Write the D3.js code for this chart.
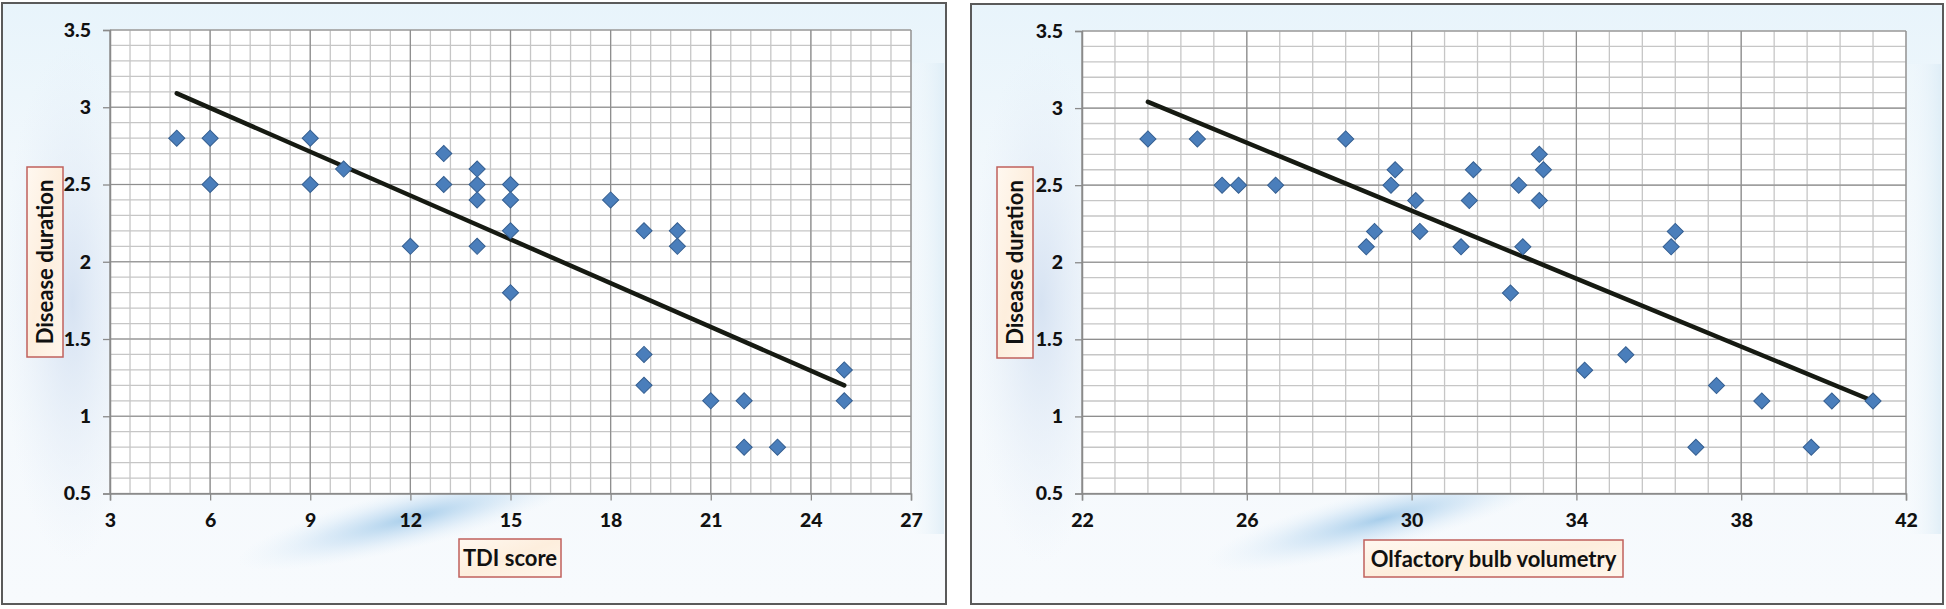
<!DOCTYPE html>
<html>
<head>
<meta charset="utf-8">
<script src="https://cdn.jsdelivr.net/npm/d3@7"></script>
<style>
  html, body { margin: 0; padding: 0; background: #ffffff; }
  svg { display: block; }
</style>
</head>
<body>
<svg id="chart" width="1946" height="609"></svg>
<script>
// ---------------- DATA ----------------
const tdiScore = [5, 6, 6, 9, 9, 10, 12, 13, 13, 14, 14, 14, 14, 15, 15, 15, 15, 18, 19, 19, 19, 20, 20, 21, 22, 22, 23, 25, 25];
const tdiDuration = [2.8, 2.8, 2.5, 2.8, 2.5, 2.6, 2.1, 2.7, 2.5, 2.6, 2.5, 2.4, 2.1, 2.5, 2.4, 2.2, 1.8, 2.4, 2.2, 1.4, 1.2, 2.2, 2.1, 1.1, 1.1, 0.8, 0.8, 1.3, 1.1];
const tdiTrendX = [5, 25];
const tdiTrendY = [3.09, 1.20];

const obVolume = [23.6, 24.8, 25.4, 25.8, 26.7, 28.4, 29.6, 29.5, 30.1, 29.1, 28.9, 30.2, 31.2, 31.5, 31.4, 32.6, 33.1, 33.2, 33.1, 32.7, 32.4, 36.4, 36.3, 34.2, 35.2, 36.9, 37.4, 38.5, 39.7, 40.2, 41.2];
const obDuration = [2.8, 2.8, 2.5, 2.5, 2.5, 2.8, 2.6, 2.5, 2.4, 2.2, 2.1, 2.2, 2.1, 2.6, 2.4, 2.5, 2.7, 2.6, 2.4, 2.1, 1.8, 2.2, 2.1, 1.3, 1.4, 0.8, 1.2, 1.1, 0.8, 1.1, 1.1];
const obTrendX = [23.6, 41.2];
const obTrendY = [3.04, 1.10];

const yTicks = [0.5, 1, 1.5, 2, 2.5, 3, 3.5];
const tdiTicks = [3, 6, 9, 12, 15, 18, 21, 24, 27];
const obTicks = [22, 26, 30, 34, 38, 42];
const yTitle = "Disease duration";
const tdiTitle = "TDI score";
const obTitle = "Olfactory bulb volumetry";

// ---------------- DRAW ----------------
const svg = d3.select("#chart");
const defs = svg.append("defs");

const bg = defs.append("linearGradient").attr("id", "panelBg").attr("x1", 0).attr("y1", 0).attr("x2", 0).attr("y2", 1);
bg.append("stop").attr("offset", "0%").attr("stop-color", "#e8f4fb");
bg.append("stop").attr("offset", "30%").attr("stop-color", "#f2f8fc");
bg.append("stop").attr("offset", "100%").attr("stop-color", "#f7fafd");

const leftGlow = defs.append("radialGradient").attr("id", "leftGlow");
leftGlow.append("stop").attr("offset", "0%").attr("stop-color", "#d3e0f1").attr("stop-opacity", 0.9);
leftGlow.append("stop").attr("offset", "100%").attr("stop-color", "#e6eef8").attr("stop-opacity", 0);

const streak = defs.append("radialGradient").attr("id", "streak");
streak.append("stop").attr("offset", "0%").attr("stop-color", "#86bbe3").attr("stop-opacity", 0.7);
streak.append("stop").attr("offset", "50%").attr("stop-color", "#b3d4ef").attr("stop-opacity", 0.4);
streak.append("stop").attr("offset", "100%").attr("stop-color", "#dcecf8").attr("stop-opacity", 0);

const rightGlow = defs.append("linearGradient").attr("id", "rightGlow").attr("x1", 0).attr("y1", 0).attr("x2", 1).attr("y2", 0);
rightGlow.append("stop").attr("offset", "0%").attr("stop-color", "#ffffff").attr("stop-opacity", 0);
rightGlow.append("stop").attr("offset", "100%").attr("stop-color", "#dcecf6").attr("stop-opacity", 1);

const boxFill = defs.append("linearGradient").attr("id", "boxFill").attr("x1", 0).attr("y1", 0).attr("x2", 1).attr("y2", 1);
boxFill.append("stop").attr("offset", "0%").attr("stop-color", "#fff8f0");
boxFill.append("stop").attr("offset", "50%").attr("stop-color", "#fdeedd");
boxFill.append("stop").attr("offset", "100%").attr("stop-color", "#fff6ec");

const FONT = "Lato, 'Open Sans', sans-serif";

function drawPanel(cfg) {
  const g = svg.append("g");
  const P = cfg.panel;
  // panel background
  g.append("rect").attr("x", P.x).attr("y", P.y).attr("width", P.w).attr("height", P.h).attr("fill", "url(#panelBg)");
  g.append("ellipse").attr("cx", P.x + 70).attr("cy", P.y + 300).attr("rx", 70).attr("ry", 260).attr("fill", "url(#leftGlow)");
  g.append("rect").attr("x", P.x + P.w - 45).attr("y", P.y + 60).attr("width", 43).attr("height", P.h - 130).attr("fill", "url(#rightGlow)").attr("opacity", 0.8);
  g.append("ellipse").attr("cx", P.x + 410).attr("cy", P.y + 515).attr("rx", 180).attr("ry", 30)
    .attr("transform", `rotate(-14 ${P.x + 410} ${P.y + 515})`).attr("fill", "url(#streak)");

  const x = d3.scaleLinear().domain(cfg.xDomain).range([cfg.plot.x0, cfg.plot.x1]);
  const y = d3.scaleLinear().domain([0.5, 3.5]).range([cfg.plot.y1, cfg.plot.y0]);

  // plot background
  g.append("rect").attr("x", cfg.plot.x0).attr("y", cfg.plot.y0)
    .attr("width", cfg.plot.x1 - cfg.plot.x0).attr("height", cfg.plot.y1 - cfg.plot.y0).attr("fill", "#ffffff");

  // minor grid
  const [xa, xb] = cfg.xDomain;
  const xMinor = d3.range(0, Math.round((xb - xa) / cfg.xMinorStep) + 1).map(i => xa + i * cfg.xMinorStep);
  const yMinor = d3.range(0, 31).map(i => 0.5 + i * 0.1);
  g.append("g").selectAll("line").data(xMinor).join("line")
    .attr("x1", d => x(d)).attr("x2", d => x(d)).attr("y1", cfg.plot.y0).attr("y2", cfg.plot.y1)
    .attr("stroke", "#c6c6c6").attr("stroke-width", 1.3);
  g.append("g").selectAll("line").data(yMinor).join("line")
    .attr("y1", d => y(d)).attr("y2", d => y(d)).attr("x1", cfg.plot.x0).attr("x2", cfg.plot.x1)
    .attr("stroke", "#c6c6c6").attr("stroke-width", 1.3);
  // major grid
  g.append("g").selectAll("line").data(cfg.xTicks).join("line")
    .attr("x1", d => x(d)).attr("x2", d => x(d)).attr("y1", cfg.plot.y0).attr("y2", cfg.plot.y1)
    .attr("stroke", "#8e8e8e").attr("stroke-width", 1.2);
  g.append("g").selectAll("line").data(yTicks).join("line")
    .attr("y1", d => y(d)).attr("y2", d => y(d)).attr("x1", cfg.plot.x0).attr("x2", cfg.plot.x1)
    .attr("stroke", "#8e8e8e").attr("stroke-width", 1.2);

  // axes
  const xAxis = d3.axisBottom(x).tickValues(cfg.xTicks).tickSize(7).tickPadding(13).tickFormat(d3.format("d"));
  const yAxis = d3.axisLeft(y).tickValues(yTicks).tickSize(7).tickPadding(12).tickFormat(d => String(d));
  const gx = g.append("g").attr("transform", `translate(0,${cfg.plot.y1})`).call(xAxis);
  const gy = g.append("g").attr("transform", `translate(${cfg.plot.x0},0)`).call(yAxis);
  [gx, gy].forEach(a => {
    a.select(".domain").attr("stroke", "#8a8a8a").attr("stroke-width", 1.5);
    a.selectAll(".tick line").attr("stroke", "#8a8a8a").attr("stroke-width", 1.3);
    a.selectAll(".tick text").attr("fill", "#111").attr("font-family", FONT)
      .attr("font-weight", 900).attr("font-size", 19.5);
  });

  // trend line
  g.append("line")
    .attr("x1", x(cfg.trendX[0])).attr("y1", y(cfg.trendY[0]))
    .attr("x2", x(cfg.trendX[1])).attr("y2", y(cfg.trendY[1]))
    .attr("stroke", "#161a12").attr("stroke-width", 4.5).attr("stroke-linecap", "round");

  // points
  const sym = d3.symbol().type(d3.symbolSquare).size(130);
  g.append("g").selectAll("path").data(cfg.xs.map((v, i) => [v, cfg.ys[i]])).join("path")
    .attr("d", sym)
    .attr("transform", d => `translate(${x(d[0])},${y(d[1])}) rotate(45)`)
    .attr("fill", "#4a7ebb").attr("stroke", "#355f91").attr("stroke-width", 1);

  // y title box
  const yt = cfg.yTitleBox;
  g.append("rect").attr("x", yt.x).attr("y", yt.y).attr("width", yt.w).attr("height", yt.h)
    .attr("fill", "url(#boxFill)").attr("stroke", "#c0605c").attr("stroke-width", 1.5);
  g.append("text").attr("transform", `translate(${yt.x + yt.w / 2 + 8},${yt.y + yt.h / 2}) rotate(-90)`)
    .attr("text-anchor", "middle").attr("font-family", FONT).attr("font-weight", "bold")
    .attr("font-size", 22).attr("fill", "#111").text(yTitle);

  // x title box
  const xt = cfg.xTitleBox;
  g.append("rect").attr("x", xt.x).attr("y", xt.y).attr("width", xt.w).attr("height", xt.h)
    .attr("fill", "url(#boxFill)").attr("stroke", "#c0605c").attr("stroke-width", 1.5);
  g.append("text").attr("x", xt.x + xt.w / 2).attr("y", xt.y + xt.h / 2 + 8)
    .attr("text-anchor", "middle").attr("font-family", FONT).attr("font-weight", "bold")
    .attr("font-size", 22).attr("fill", "#111").text(cfg.xTitle);

  // panel border
  g.append("rect").attr("x", P.x).attr("y", P.y).attr("width", P.w).attr("height", P.h)
    .attr("fill", "none").attr("stroke", "#5a5a5a").attr("stroke-width", 2);
}

drawPanel({
  panel: { x: 2, y: 3, w: 944, h: 601 },
  plot: { x0: 110, x1: 911, y0: 30, y1: 493.5 },
  xDomain: [3, 27], xMinorStep: 0.6, xTicks: tdiTicks,
  xs: tdiScore, ys: tdiDuration, trendX: tdiTrendX, trendY: tdiTrendY,
  yTitleBox: { x: 27, y: 167, w: 36, h: 190 },
  xTitleBox: { x: 459, y: 539, w: 102, h: 38 },
  xTitle: tdiTitle
});

drawPanel({
  panel: { x: 971, y: 4, w: 972, h: 600 },
  plot: { x0: 1082, x1: 1906, y0: 31, y1: 493.5 },
  xDomain: [22, 42], xMinorStep: 0.8, xTicks: obTicks,
  xs: obVolume, ys: obDuration, trendX: obTrendX, trendY: obTrendY,
  yTitleBox: { x: 997, y: 167, w: 36, h: 191 },
  xTitleBox: { x: 1364, y: 540, w: 259, h: 37 },
  xTitle: obTitle
});
</script>
</body>
</html>
